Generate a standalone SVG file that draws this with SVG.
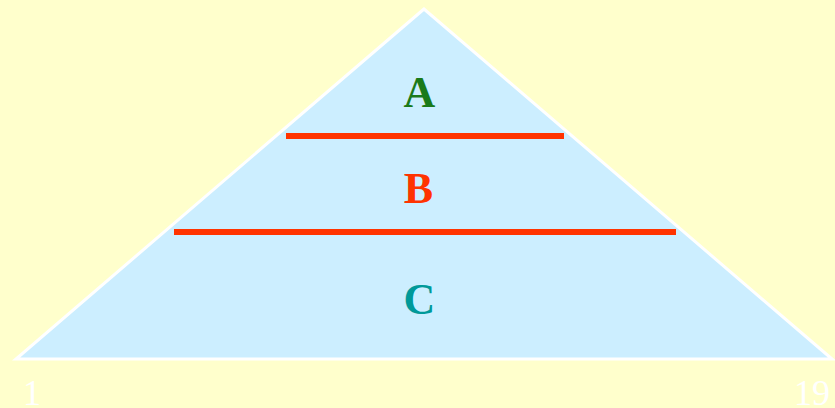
<svg xmlns="http://www.w3.org/2000/svg" width="835" height="408" viewBox="0 0 835 408">
<style>
.lbl{font-family:"Liberation Serif",serif;font-weight:bold;font-size:44px;text-anchor:middle}
.num{font-family:"Liberation Serif",serif;font-size:36px;fill:#ffffff}
.sep{stroke:#ff3300;stroke-width:6}
</style>
<rect width="835" height="408" fill="#ffffcc"/>
<g id="pyramid">
<polygon points="424,9 16,359 832,359" fill="#cceeff" stroke="#ffffff" stroke-width="3" stroke-linejoin="miter"/>
</g>
<g id="connectors">
<line class="sep" x1="286" y1="136" x2="564" y2="136"/>
<line class="sep" x1="174" y1="232" x2="676" y2="232"/>
</g>
<g id="nodeA"><text class="lbl" x="419.5" y="107" fill="#1a7a1a">A</text></g>
<g id="nodeB"><text class="lbl" x="418.5" y="203" fill="#ff3300">B</text></g>
<g id="nodeC"><text class="lbl" x="419.5" y="314" fill="#009999">C</text></g>
<g id="labels">
<text class="num" x="23" y="405">1</text>
<text class="num" x="794" y="405">19</text>
</g>
</svg>
